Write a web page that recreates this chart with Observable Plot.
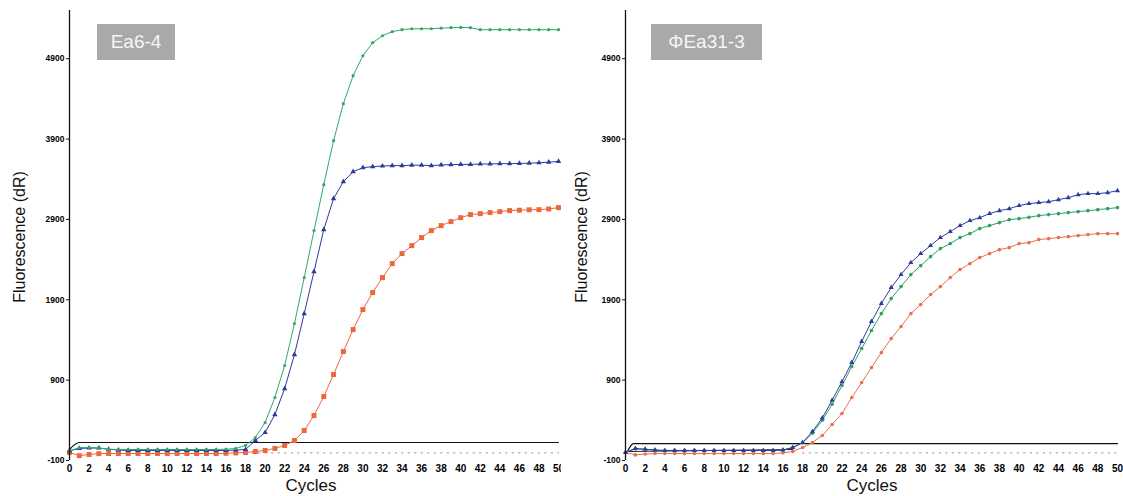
<!DOCTYPE html>
<html><head><meta charset="utf-8">
<script src="https://cdn.jsdelivr.net/npm/d3@7"></script>
<script src="https://cdn.jsdelivr.net/npm/@observablehq/plot@0.6"></script>
<style>
body{margin:0;background:#fff;font-family:"Liberation Sans",Arial,sans-serif;}
#wrap{position:relative;width:1123px;height:496px;display:flex;overflow:hidden;}
.tag{position:absolute;background:#a9a9a9;color:#f6f6f6;font-size:19px;text-align:center;line-height:36px;height:36px;}
.xl{position:absolute;font-size:17px;color:#111;transform:translateX(-50%);}
.yl{position:absolute;font-size:16px;color:#111;transform:translate(-50%,-50%) rotate(-90deg);white-space:nowrap;}
</style></head>
<body><div id="wrap"></div>
<script>
const cycles = d3.range(0, 51);
const yTicks = [-100, 900, 1900, 2900, 3900, 4900];
const xTicks = d3.range(0, 51, 2);
const panelTitles = ["Ea6-4", "ΦEa31-3"];
const xLabel = "Cycles";
const yLabel = "Fluorescence (dR)";

// Panel 1: Ea6-4
const leftGreen = [20,60,62,55,40,37,37,37,37,37,37,37,37,37,37,37,40,50,
  87,186,372,684,1082,1604,2176,2761,3333,3880,
  4340,4689,4937,5099,5186,5236,5261,
  5273,5273,5273,5280,5286,5290,5286,
  5261,5261,5261,5261,5261,5261,5261,5261,5261];
const leftBlue = [20,50,55,55,40,30,25,25,25,25,25,25,25,25,25,25,25,30,
  37,149,248,470,795,1218,1728,2251,2773,3159,
  3370,3494,3544,3557,3565,3570,3570,3575,3575,3570,
  3578,3582,3585,3585,3590,3590,3594,3594,3597,3600,
  3605,3612,3622];
const leftOrange = [0,-40,-25,-15,-13,-13,-13,-13,-13,-13,-13,-13,-13,-13,-13,-13,-10,-5,
  0,12,25,50,87,149,273,460,696,970,
  1256,1529,1778,1990,2176,2350,2475,2574,2674,2761,
  2823,2873,2922,2960,2972,2985,2997,
  3010,3015,3020,3022,3030,3047];
const leftThreshX = [0, 1, 50];
const leftThreshY = [37, 124, 124];

// Panel 2: ΦEa31-3
const rightBlue = [0,50,40,30,25,25,25,25,25,25,25,25,25,25,25,25,30,
  62,124,260,430,650,880,1119,1380,1629,1853,
  2052,2213,2363,2475,2574,2674,2748,2823,2885,2922,
  2972,3009,3034,3072,3097,3109,3121,3146,3171,3208,
  3221,3221,3233,3258];
const rightGreen = [0,45,40,30,25,25,25,25,25,25,25,25,25,25,25,25,30,
  62,120,240,400,600,833,1069,1293,1517,1728,
  1915,2064,2213,2325,2437,2537,2599,2674,2723,2786,
  2823,2860,2897,2910,2926,2947,2960,2972,2985,2997,
  3009,3022,3034,3047];
const rightOrange = [0,-30,-20,-13,-13,-13,-13,-13,-13,-13,-13,-13,-13,-13,-13,-13,-5,
  12,62,124,211,348,485,684,870,1057,1243,
  1417,1567,1728,1840,1965,2064,2176,2276,2350,2425,
  2475,2524,2549,2599,2611,2649,2661,2674,2686,2699,
  2711,2723,2723,2723];
const rightThreshX = [0.2, 0.8, 50];
const rightThreshY = [12, 111, 111];
const rightBoxX = [0.2, 17];
const rightBoxY = [12, 37];
const grayLineX = [18, 50];
const grayLineY = [-5, -5];

const toRows = (arr) => arr.map((v, i) => ({c: cycles[i], v}));
const pairRows = (xs, ys) => xs.map((c, i) => ({c, v: ys[i]}));

function panel(cfg) {
  const marks = [
    Plot.line(pairRows(cfg.grayX, cfg.grayY), {x:"c", y:"v", stroke:"#999", strokeWidth:1, strokeDasharray:"1.5,5"}),
    Plot.line(pairRows(cfg.threshX, cfg.threshY), {x:"c", y:"v", stroke:"#111", strokeWidth:1.2, curve:"monotone-x"}),
  ];
  if (cfg.boxX) marks.push(Plot.line(pairRows(cfg.boxX, cfg.boxY), {x:"c", y:"v", stroke:"#222", strokeWidth:1}));
  for (const s of cfg.series) {
    const rows = toRows(s.values);
    marks.push(Plot.line(rows, {x:"c", y:"v", stroke:s.color, strokeWidth:1}));
    marks.push(Plot.dot(rows, {x:"c", y:"v", fill:s.color, stroke:"none", symbol:s.symbol, r:s.r}));
  }
  marks.push(Plot.ruleX([0], {y1:-100, y2:5500, stroke:"#111", strokeWidth:1.3}));
  marks.push(Plot.axisY({ticks: yTicks, tickSize: 3, tickPadding: 2, fontSize: 8.5, fontWeight: "bold", fill: "#000", label: null, tickFormat: d => String(d)}));
  marks.push(Plot.axisX({ticks: xTicks, tickSize: 0, tickPadding: 4, fontSize: 10, fontWeight: "bold", fill: "#000", label: null, tickFormat: d => String(d)}));
  return Plot.plot({
    width: cfg.width, height: 496,
    marginLeft: cfg.ml, marginRight: cfg.mr, marginTop: 10, marginBottom: 36,
    x: {domain: [0, 50]},
    y: {domain: [-100, 5500]},
    style: {fontFamily: "Liberation Sans, Arial, sans-serif", background: "white", color: "#111", overflow: "visible"},
    marks
  });
}

const wrap = document.getElementById("wrap");
wrap.appendChild(panel({
  width: 561, ml: 69, mr: 3,
  threshX: leftThreshX, threshY: leftThreshY,
  grayX: grayLineX, grayY: grayLineY,
  series: [
    {values: leftOrange, color: "#ec673c", symbol: "square", r: 2.8},
    {values: leftBlue, color: "#2c3a9c", symbol: "triangle", r: 2.0},
    {values: leftGreen, color: "#34a86a", symbol: "circle", r: 1.6}
  ]
}));
wrap.appendChild(panel({
  width: 562, ml: 64, mr: 6,
  threshX: rightThreshX, threshY: rightThreshY,
  boxX: rightBoxX, boxY: rightBoxY,
  grayX: grayLineX, grayY: grayLineY,
  series: [
    {values: rightOrange, color: "#e8704f", symbol: "circle", r: 1.8},
    {values: rightGreen, color: "#30a067", symbol: "circle", r: 1.8},
    {values: rightBlue, color: "#2d3c9e", symbol: "triangle", r: 1.9}
  ]
}));

function addDiv(cls, text, style) {
  const d = document.createElement("div");
  d.className = cls; d.textContent = text;
  Object.assign(d.style, style);
  wrap.appendChild(d);
}
addDiv("tag", panelTitles[0], {left: "97px", top: "24px", width: "78px"});
addDiv("tag", panelTitles[1], {left: "651px", top: "24px", width: "111px"});
addDiv("xl", xLabel, {left: "311px", top: "476px"});
addDiv("xl", xLabel, {left: "872px", top: "476px"});
addDiv("yl", yLabel, {left: "20px", top: "237px"});
addDiv("yl", yLabel, {left: "582px", top: "237px"});
</script>
</body></html>
